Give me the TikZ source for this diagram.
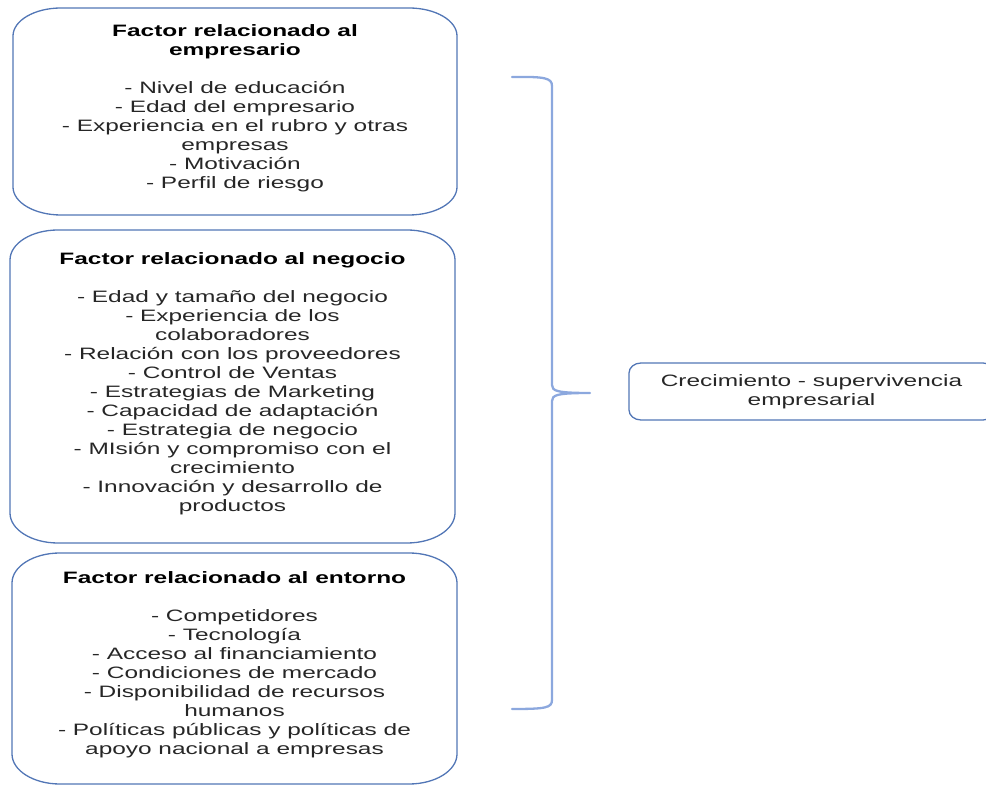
\documentclass[tikz,border=0pt]{standalone}
\usepackage{fontspec}
\setmainfont{Liberation Sans}[FakeStretch=1.48]
\definecolor{boxblue}{RGB}{82,118,182}
\definecolor{braceblue}{RGB}{140,168,222}
\definecolor{itemgray}{RGB}{38,38,38}

% outline with elliptical corners around an (empty) node
\newcommand\roundframe[3]{%
  \draw[boxline] ([yshift=-#3]#1.north west)
    arc[start angle=180,end angle=90,x radius=#2,y radius=#3]
    -- ([xshift=-#2]#1.north east)
    arc[start angle=90,end angle=0,x radius=#2,y radius=#3]
    -- ([yshift=#3]#1.south east)
    arc[start angle=0,end angle=-90,x radius=#2,y radius=#3]
    -- ([xshift=#2]#1.south west)
    arc[start angle=270,end angle=180,x radius=#2,y radius=#3]
    -- cycle;}

\begin{document}
\begin{tikzpicture}[x=1pt,y=1pt,
  boxline/.style={draw=boxblue,line width=1.3pt},
  frame/.style={inner sep=0pt,outer sep=0pt},
  txt/.style={align=center,inner sep=0pt,text=itemgray,
    font=\fontsize{16.5}{19}\selectfont},
  bracestyle/.style={draw=braceblue,line width=2.3pt,line join=round,line cap=round}]
\useasboundingbox (0,0) rectangle (986,785);

% factor boxes
\node[frame,minimum width=444,minimum height=207] (b1) at (235,673.5) {};
\node[frame,minimum width=445,minimum height=313] (b2) at (232.5,398.5) {};
\node[frame,minimum width=445,minimum height=231] (b3) at (234.5,116.5) {};
\roundframe{b1}{48}{28}
\roundframe{b2}{48}{30}
\roundframe{b3}{48}{30}

\node[txt] (t1) at ([yshift=3]b1.center) {%
  \textbf{\color{black}Factor relacionado al}\\
  \textbf{\color{black}empresario}\\[19pt]
  - Nivel de educación\\
  - Edad del empresario\\
  - Experiencia en el rubro y otras\\
  empresas\\
  - Motivación\\
  - Perfil de riesgo};

\node[txt] (t2) at ([yshift=2.5]b2.center) {%
  \textbf{\color{black}Factor relacionado al negocio}\\[19pt]
  - Edad y tamaño del negocio\\
  - Experiencia de los\\
  colaboradores\\
  - Relación con los proveedores\\
  - Control de Ventas\\
  - Estrategias de Marketing\\
  - Capacidad de adaptación\\
  - Estrategia de negocio\\
  - MIsión y compromiso con el\\
  crecimiento\\
  - Innovación y desarrollo de\\
  productos};

\node[txt] (t3) at ([yshift=3.5]b3.center) {%
  \textbf{\color{black}Factor relacionado al entorno}\\[19pt]
  - Competidores\\
  - Tecnología\\
  - Acceso al financiamiento\\
  - Condiciones de mercado\\
  - Disponibilidad de recursos\\
  humanos\\
  - Políticas públicas y políticas de\\
  apoyo nacional a empresas};

% result box
\node[frame,minimum width=366,minimum height=57] (res) at (812,393.5) {};
\roundframe{res}{12}{10}
\node[txt] (rt) at ([xshift=-0.5]res.center) {Crecimiento - supervivencia\\empresarial};

% brace
\coordinate (btop) at (512,708);
\coordinate (bbot) at (512,76);
\coordinate (tip) at (590,392);
\draw[bracestyle] (btop) .. controls (545,708.5) and (552,707) .. (552,699)
  -- (552,400) .. controls (552,394) and (557,392) .. (tip)
  .. controls (557,392) and (552,390) .. (552,384)
  -- (552,85) .. controls (552,77) and (545,76) .. (bbot);
\end{tikzpicture}
\end{document}
